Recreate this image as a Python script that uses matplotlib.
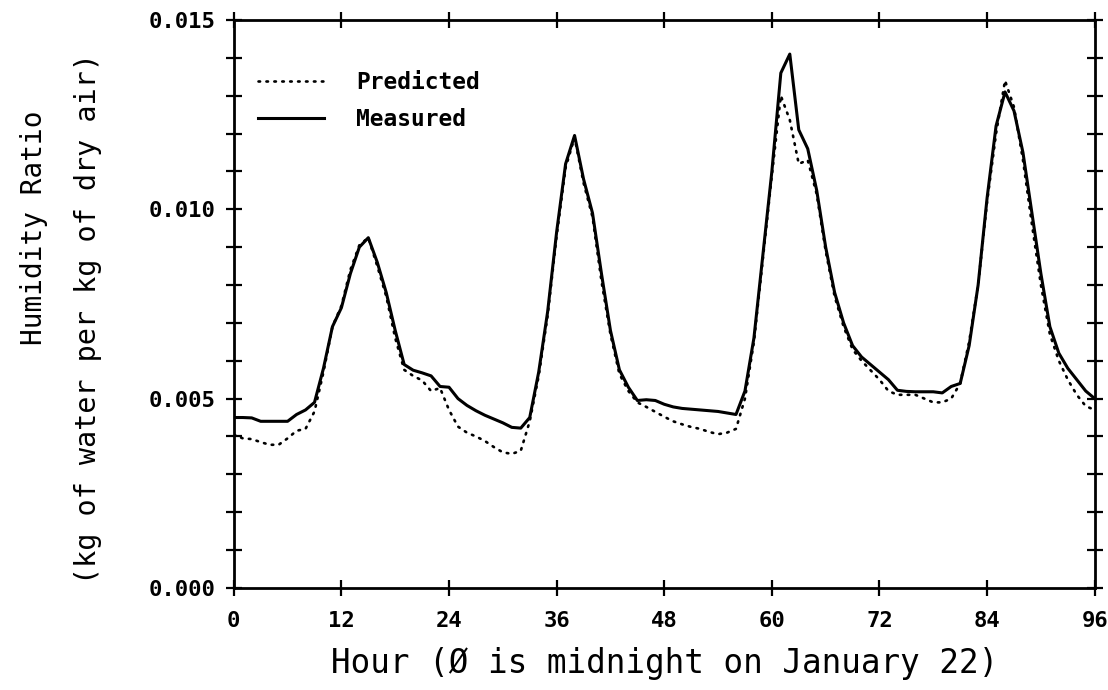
import matplotlib.pyplot as plt
from matplotlib.ticker import MultipleLocator, FormatStrFormatter

# --- Datos (lectura aproximada de la figura, cada hora) ---
horas = list(range(0, 97))

medido = [
    0.00450, 0.00450, 0.00449, 0.00440, 0.00440, 0.00440, 0.00440, 0.00458,
    0.00470, 0.00490, 0.00580, 0.00690, 0.00740, 0.00830, 0.00900, 0.00925,
    0.00860, 0.00780, 0.00680, 0.00590, 0.00575, 0.00568, 0.00560, 0.00532,
    0.00530, 0.00500, 0.00482, 0.00468, 0.00456, 0.00446, 0.00436, 0.00424,
    0.00422, 0.00450, 0.00570, 0.00730, 0.00940, 0.01120, 0.01195, 0.01080,
    0.00990, 0.00830, 0.00680, 0.00576, 0.00530, 0.00495, 0.00497, 0.00495,
    0.00485, 0.00478, 0.00474, 0.00472, 0.00470, 0.00468, 0.00466, 0.00462,
    0.00458, 0.00520, 0.00660, 0.00880, 0.01100, 0.01360, 0.01410, 0.01210,
    0.01160, 0.01050, 0.00900, 0.00780, 0.00700, 0.00640, 0.00610, 0.00590,
    0.00570, 0.00550, 0.00522, 0.00519, 0.00518, 0.00518, 0.00518, 0.00515,
    0.00532, 0.00540, 0.00640, 0.00800, 0.01030, 0.01220, 0.01310, 0.01260,
    0.01150, 0.00990, 0.00830, 0.00690, 0.00620, 0.00580, 0.00550, 0.00520,
    0.00500,
]

predicho = [
    0.00405, 0.00395, 0.00393, 0.00385, 0.00378, 0.00378, 0.00395, 0.00415,
    0.00420, 0.00466, 0.00570, 0.00690, 0.00745, 0.00840, 0.00905, 0.00925,
    0.00850, 0.00770, 0.00660, 0.00576, 0.00560, 0.00548, 0.00520, 0.00528,
    0.00470, 0.00426, 0.00410, 0.00400, 0.00388, 0.00372, 0.00358, 0.00354,
    0.00362, 0.00440, 0.00560, 0.00720, 0.00930, 0.01110, 0.01190, 0.01070,
    0.00980, 0.00810, 0.00670, 0.00565, 0.00520, 0.00490, 0.00478, 0.00465,
    0.00452, 0.00440, 0.00432, 0.00425, 0.00420, 0.00412, 0.00406, 0.00410,
    0.00420, 0.00500, 0.00650, 0.00870, 0.01090, 0.01300, 0.01236, 0.01120,
    0.01130, 0.01040, 0.00890, 0.00770, 0.00690, 0.00630, 0.00600, 0.00575,
    0.00550, 0.00520, 0.00510, 0.00510, 0.00510, 0.00500, 0.00490, 0.00490,
    0.00500, 0.00540, 0.00650, 0.00800, 0.01020, 0.01200, 0.01340, 0.01270,
    0.01130, 0.00960, 0.00800, 0.00670, 0.00600, 0.00550, 0.00510, 0.00480,
    0.00470,
]

# --- Graficar ---
fig = plt.figure(figsize=(11.08, 6.90), dpi=100)
ax = fig.add_axes([0.211, 0.148, 0.777, 0.823])

ax.plot(horas, predicho, color='black', lw=1.9, linestyle=(0, (0.6, 2.4)),
        dash_capstyle='round', label='Predicted')
ax.plot(horas, medido, color='black', lw=2.2, label='Measured')

ax.set_xlim(0, 96)
ax.set_ylim(0, 0.015)
ax.xaxis.set_major_locator(MultipleLocator(12))
ax.yaxis.set_major_locator(MultipleLocator(0.005))
ax.yaxis.set_minor_locator(MultipleLocator(0.001))
ax.yaxis.set_major_formatter(FormatStrFormatter('%.3f'))

for s in ax.spines.values():
    s.set_linewidth(2)

ax.tick_params(which='both', direction='inout', length=11, width=1.6,
               top=True, right=True)
ax.tick_params(axis='x', pad=11)
ax.tick_params(axis='y', pad=8)
for lab in ax.get_xticklabels() + ax.get_yticklabels():
    lab.set_fontfamily('DejaVu Sans Mono')
    lab.set_fontweight('bold')
    lab.set_fontsize(16)

ax.set_xlabel('Hour (Ø is midnight on January 22)', fontsize=23.5,
              family='DejaVu Sans Mono', labelpad=12)
fig.text(0.031, 0.670, 'Humidity Ratio', rotation=90, fontsize=20,
         family='DejaVu Sans Mono', ha='center', va='center')
fig.text(0.079, 0.538, '(kg of water per kg of dry air)', rotation=90,
         fontsize=20.5, family='DejaVu Sans Mono', ha='center', va='center')

leg = ax.legend(loc='upper left', bbox_to_anchor=(0.028, 0.91), frameon=False,
                borderpad=0, borderaxespad=0, handlelength=2.9,
                handletextpad=1.4, labelspacing=0.6,
                prop={'family': 'DejaVu Sans Mono', 'weight': 'bold', 'size': 16.5})

plt.savefig('out.png', dpi=100)
